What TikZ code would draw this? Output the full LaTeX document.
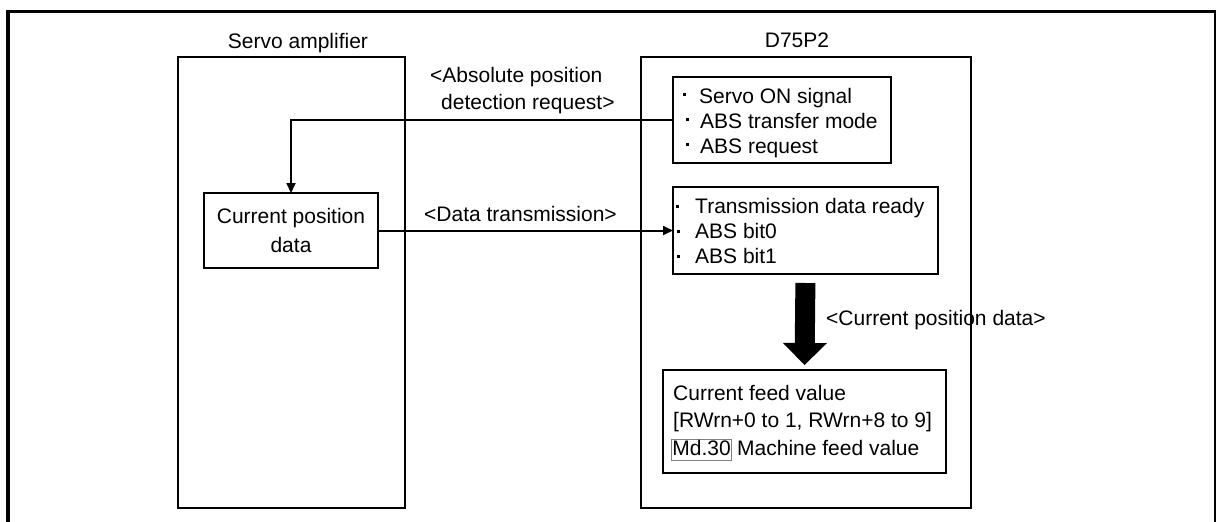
\documentclass[tikz,border=0pt]{standalone}
\usepackage{fontspec}
\setmainfont{Liberation Sans}
\usetikzlibrary{arrows.meta}
\newcommand{\sqb}{\rule[7pt]{3pt}{3pt}}
\newcommand{\sqc}{\rule[5.5pt]{3pt}{3pt}}
\begin{document}
\begin{tikzpicture}[x=1pt,y=-1pt,
  every node/.style={font=\fontsize{21}{26}\selectfont},
  box/.style={draw,line width=2pt,inner sep=0pt,outer sep=0pt},
  txt/.style={inner sep=0pt,anchor=base west},
  conn/.style={line width=2pt,-{Triangle[length=10pt,width=9pt]}}]
\useasboundingbox (0,0) rectangle (1216,522);
% outer frame
\draw[line width=3pt] (8,11) -- (1216,11);
\draw[line width=3.5pt] (8,9.5) -- (8,522);
\draw[line width=2pt] (1215,11) -- (1215,522);
% big boxes
\node[box,minimum width=227pt,minimum height=451pt] (servo) at (291.5,282.5) {};
\node[box,minimum width=330pt,minimum height=451pt] (d75) at (806,282.5) {};
\node[inner sep=0pt,anchor=base] (servoL) at (298,48) {Servo amplifier};
\node[inner sep=0pt,anchor=base] (d75L) at (797,47) {D75P2};
% inner boxes
\node[box,minimum width=218pt,minimum height=86pt] (b1) at (782,120) {};
\node[box,minimum width=265pt,minimum height=87pt] (b2) at (805.5,230.5) {};
\node[box,minimum width=283pt,minimum height=103pt] (b3) at (804.5,421.5) {};
\node[box,minimum width=174pt,minimum height=75pt,align=center,
  font=\fontsize{21}{29}\selectfont] (cur) at (291,230.5) {Current position\\data};
% box 1 text
\node[txt] (b1a) at (683,103) {\sqb\hspace{13pt}Servo ON signal};
\node[txt] (b1b) at (686,128) {\sqb\hspace{11pt}ABS transfer mode};
\node[txt] (b1c) at (686,153) {\sqb\hspace{11pt}ABS request};
% box 2 text
\node[txt] (b2a) at (676,213) {\sqc\hspace{16pt}Transmission data ready};
\node[txt] (b2b) at (677,238) {\sqc\hspace{15pt}ABS bit0};
\node[txt] (b2c) at (677,263) {\sqc\hspace{15pt}ABS bit1};
% box 3 text
\node[txt] (b3a) at (673,400) {Current feed value};
\node[txt] (b3b) at (673,427) {[RWrn+0 to 1, RWrn+8 to 9]};
\node[draw=gray,line width=0.8pt,inner xsep=1pt,inner ysep=0pt,text height=16pt,text depth=5pt,anchor=base west] (md) at (671,455) {Md.30};
\node[txt] (b3c) at (737,455) {Machine feed value};
% labels
\node[txt] (absA) at (430,82) {<Absolute position};
\node[txt] (absB) at (441,109) {detection request>};
\node[txt] (dtx) at (424,221) {<Data transmission>};
\node[txt] (cpd) at (826,325) {<Current position data>};
% connectors
\draw[conn] (b1.west) -| (cur.north);
\draw[conn] (cur.east) -- (b2.west);
\draw[line width=20pt,-{Triangle[length=22pt,width=44pt,line width=0pt]},shorten <=9pt,shorten >=5pt] (b2.south) -- (b3.north);
\end{tikzpicture}
\end{document}
